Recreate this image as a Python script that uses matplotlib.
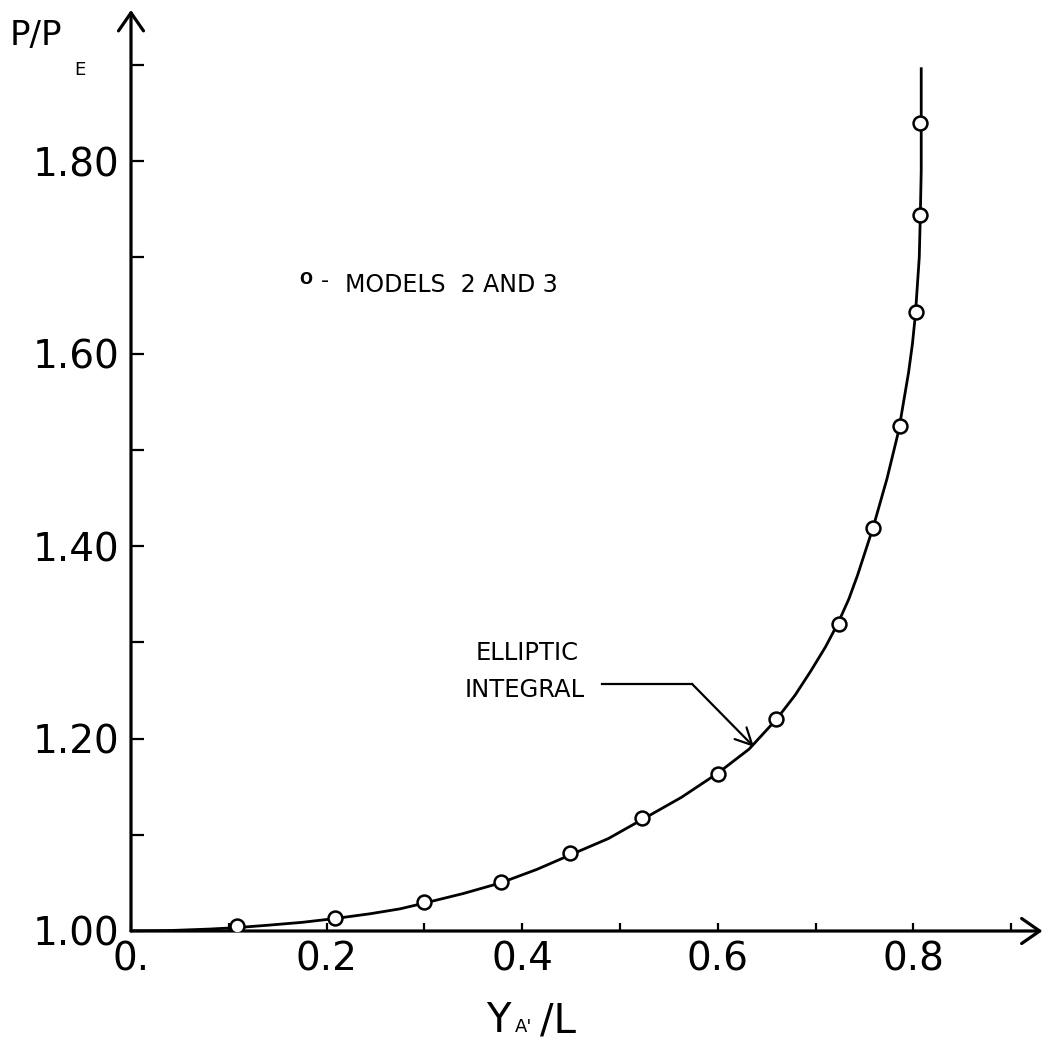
import matplotlib
matplotlib.use("Agg")
import matplotlib.pyplot as plt

W, H = 1048, 1042

# test points, models 2 and 3
model_x = [0.108, 0.209, 0.300, 0.378, 0.449, 0.523, 0.600, 0.660,
           0.724, 0.759, 0.786, 0.803, 0.807, 0.807]
model_p = [1.005, 1.013, 1.030, 1.051, 1.081, 1.117, 1.163, 1.220,
           1.319, 1.419, 1.525, 1.643, 1.744, 1.840]

# elliptic integral solution
curve_x = [0.000, 0.040, 0.080, 0.108, 0.140, 0.175, 0.209, 0.245,
           0.275, 0.300, 0.340, 0.378, 0.415, 0.449, 0.488, 0.523,
           0.563, 0.600, 0.632, 0.660, 0.679, 0.695, 0.710, 0.723,
           0.734, 0.743, 0.751, 0.759, 0.766, 0.773, 0.779, 0.785,
           0.790, 0.795, 0.799, 0.802, 0.804, 0.806, 0.807, 0.808,
           0.808, 0.808]
curve_p = [1.000, 1.0005, 1.002, 1.0035, 1.006, 1.009, 1.013, 1.018,
           1.023, 1.029, 1.039, 1.050, 1.064, 1.079, 1.096, 1.116,
           1.139, 1.164, 1.189, 1.220, 1.245, 1.270, 1.295, 1.320,
           1.345, 1.370, 1.395, 1.420, 1.445, 1.470, 1.495, 1.520,
           1.550, 1.580, 1.610, 1.640, 1.670, 1.700, 1.740, 1.790,
           1.840, 1.896]

x_major = [0.0, 0.2, 0.4, 0.6, 0.8]
x_major_labels = ["0.", "0.2", "0.4", "0.6", "0.8"]
x_minor = [0.1, 0.3, 0.5, 0.7, 0.9]
y_major = [1.0, 1.2, 1.4, 1.6, 1.8]
y_major_labels = ["1.00", "1.20", "1.40", "1.60", "1.80"]
y_minor = [1.1, 1.3, 1.5, 1.7, 1.9]

XMAX, YMAX = 0.932, 1.957


def fpx(x, y):
    """pixel position -> figure fraction"""
    return x / W, 1 - y / H


plt.rcParams["font.family"] = ["DejaVu Sans"]

fig = plt.figure(figsize=(W / 100, H / 100), dpi=100)
ax = fig.add_axes([131 / W, (H - 931) / H, XMAX * 978 / W, 921 / H])
ax.set_xlim(0, XMAX)
ax.set_ylim(1.0, YMAX)
for s in ax.spines.values():
    s.set_visible(False)

# axes drawn as arrows
axis_arrow = dict(arrowstyle="->, head_length=0.65, head_width=0.45",
                  mutation_scale=20, lw=2.3, color="black",
                  shrinkA=0, shrinkB=0)
ax.annotate("", xy=(XMAX, 1.0), xytext=(0, 1.0), arrowprops=axis_arrow,
            annotation_clip=False)
ax.annotate("", xy=(0, YMAX), xytext=(0, 1.0), arrowprops=axis_arrow,
            annotation_clip=False)

ax.set_xticks(x_major)
ax.set_xticklabels(x_major_labels)
ax.set_xticks(x_minor, minor=True)
ax.set_yticks(y_major)
ax.set_yticklabels(y_major_labels)
ax.set_yticks(y_minor, minor=True)
ax.tick_params(axis="x", which="both", direction="in", length=6, width=1.6,
               pad=7, labelsize=28)
ax.tick_params(axis="y", which="both", direction="in", length=9, width=1.6,
               pad=8, labelsize=28)
ax.tick_params(top=False, right=False)

ax.plot(curve_x, curve_p, color="black", lw=2.0, zorder=3,
        solid_joinstyle="round")
ax.plot(model_x, model_p, linestyle="none", marker="o", markersize=10,
        markerfacecolor="white", markeredgecolor="black",
        markeredgewidth=1.8, zorder=4)

# label and leader for the curve
lab_kw = dict(fontsize=17.5, ha="center", va="baseline")
fig.text(*fpx(527, 660), "ELLIPTIC", **lab_kw)
fig.text(*fpx(525, 697), "INTEGRAL", **lab_kw)
ax.plot([0.4816, 0.5736], [1.2568, 1.2568], color="black", lw=1.6,
        clip_on=False)
ax.annotate("", xy=(0.637, 1.1913), xytext=(0.5736, 1.2568),
            arrowprops=dict(arrowstyle="->, head_length=0.6, head_width=0.3",
                            mutation_scale=20, lw=1.6, color="black",
                            shrinkA=0, shrinkB=0))

# key
fig.text(*fpx(306, 279), "O", fontsize=11, fontweight="bold",
         ha="center", va="center")
fig.text(*fpx(325, 281), "-", fontsize=16, ha="center", va="center")
fig.text(*fpx(345, 292), "MODELS  2 AND 3", fontsize=17, ha="left",
         va="baseline")

# axis titles
fig.text(*fpx(10, 45), "P/P", fontsize=24.5, ha="left", va="baseline")
fig.text(*fpx(74, 75), "E", fontsize=13, ha="left", va="baseline")
fig.text(*fpx(486, 1032), "Y", fontsize=29, ha="left", va="baseline")
fig.text(*fpx(515, 1032), "A'", fontsize=13, ha="left", va="baseline")
fig.text(*fpx(540, 1032), "/L", fontsize=29, ha="left", va="baseline")

fig.savefig("out.png", dpi=100)
